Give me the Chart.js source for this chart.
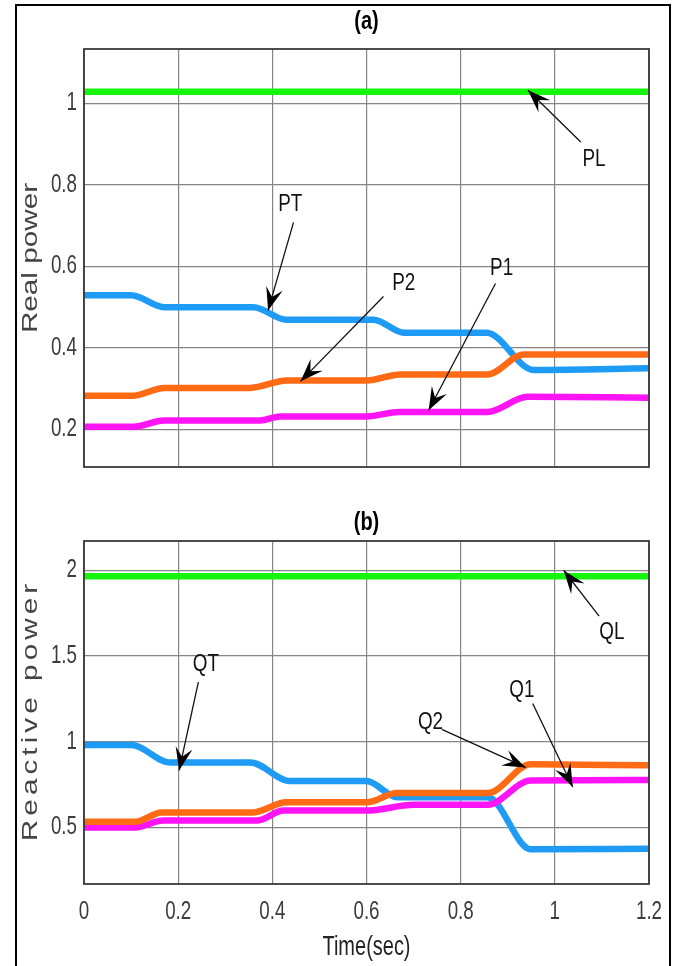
<!DOCTYPE html>
<html>
<head>
<meta charset="utf-8">
<script src="https://cdn.jsdelivr.net/npm/chart.js@4.4.0/dist/chart.umd.min.js"></script>
<style>
  html, body { margin: 0; padding: 0; background: #fff; }
  #wrap { position: relative; width: 678px; height: 966px; overflow: hidden; background: #fff; }
  .panel { position: absolute; left: 0; width: 678px; height: 483px; }
  #frame { position: absolute; left: 15px; top: 4px; width: 656px; height: 990px;
           border: 2px solid #000; box-sizing: border-box; pointer-events: none; }
</style>
</head>
<body>
<div id="wrap">
  <div class="panel" style="top:0"><canvas id="chartA" width="678" height="483"></canvas></div>
  <div class="panel" style="top:483px"><canvas id="chartB" width="678" height="483"></canvas></div>
  <div id="frame"></div>
</div>
<script>
// ---- shared axis data ----
const timeTicks = [0, 0.2, 0.4, 0.6, 0.8, 1, 1.2];
const realTicks = [0.2, 0.4, 0.6, 0.8, 1];
const reactiveTicks = [0.5, 1, 1.5, 2];

// ---- (a) real power, breakpoints (time, value) ----
const plTime = [0, 1.2];
const plValue = [1.028, 1.028];
const ptTime = [0, 0.10, 0.17, 0.36, 0.43, 0.615, 0.68, 0.855, 0.955, 1.2];
const ptValue = [0.529, 0.529, 0.500, 0.500, 0.469, 0.469, 0.437, 0.437, 0.346, 0.350];
const p2Time = [0, 0.105, 0.17, 0.353, 0.43, 0.60, 0.672, 0.857, 0.934, 1.2];
const p2Value = [0.283, 0.283, 0.302, 0.302, 0.320, 0.320, 0.335, 0.335, 0.384, 0.384];
const p1Time = [0, 0.105, 0.17, 0.374, 0.417, 0.60, 0.67, 0.857, 0.942, 1.2];
const p1Value = [0.207, 0.207, 0.222, 0.222, 0.232, 0.232, 0.243, 0.243, 0.280, 0.278];

// ---- (b) reactive power ----
const qlTime = [0, 1.2];
const qlValue = [1.965, 1.965];
const qtTime = [0, 0.101, 0.183, 0.353, 0.438, 0.60, 0.665, 0.857, 0.949, 1.2];
const qtValue = [0.980, 0.980, 0.878, 0.878, 0.770, 0.770, 0.676, 0.676, 0.372, 0.376];
const q2Time = [0, 0.109, 0.165, 0.357, 0.43, 0.60, 0.665, 0.857, 0.949, 1.2];
const q2Value = [0.533, 0.533, 0.587, 0.587, 0.646, 0.646, 0.700, 0.700, 0.868, 0.862];
const q1Time = [0, 0.109, 0.168, 0.367, 0.424, 0.60, 0.70, 0.857, 0.949, 1.2];
const q1Value = [0.500, 0.500, 0.540, 0.540, 0.598, 0.598, 0.632, 0.632, 0.774, 0.776];

// ---- callout labels: text, label point, arrow tail, arrow tip (data units) ----
const notesA = [
  { text: 'PL', label: [1.083, 0.862], tail: [1.055, 0.905], tip: [0.943, 1.032] },
  { text: 'PT', label: [0.438, 0.752], tail: [0.445, 0.708], tip: [0.391, 0.492] },
  { text: 'P2', label: [0.679, 0.558], tail: [0.636, 0.526], tip: [0.460, 0.318] },
  { text: 'P1', label: [0.887, 0.594], tail: [0.874, 0.558], tip: [0.732, 0.247] }
];
const notesB = [
  { text: 'QL', label: [1.121, 1.636], tail: [1.094, 1.732], tip: [1.019, 1.998] },
  { text: 'QT', label: [0.259, 1.45],  tail: [0.243, 1.348], tip: [0.202, 0.832] },
  { text: 'Q2', label: [0.736, 1.108], tail: [0.760, 1.072], tip: [0.938, 0.850] },
  { text: 'Q1', label: [0.930, 1.30],  tail: [0.953, 1.222], tip: [1.038, 0.736] }
];

const COLORS = { green: '#16f50c', blue: '#1e9bf5', orange: '#ff6a14', magenta: '#ff14f5' };
const SANS = '"Liberation Sans", Arial, sans-serif';

const toXY = (ts, vs) => ts.map((t, i) => ({ x: t, y: vs[i] }));
const series = (label, ts, vs, color) => ({
  label, data: toXY(ts, vs), borderColor: color, backgroundColor: color,
  borderWidth: 6.5, pointRadius: 0, cubicInterpolationMode: 'monotone', fill: false
});

// text squeezed horizontally, giving the tall narrow lettering of the plot labels
function narrowText(ctx, text, x, y, size, opt = {}) {
  ctx.save();
  ctx.translate(x, y);
  ctx.scale(opt.sx || 0.75, 1);
  ctx.font = (opt.bold ? 'bold ' : '') + size + 'px ' + SANS;
  ctx.fillStyle = opt.color || '#333';
  ctx.textAlign = opt.align || 'center';
  ctx.textBaseline = 'middle';
  ctx.fillText(text, 0, 0);
  ctx.restore();
}

function drawArrow(ctx, x0, y0, x1, y1) {
  ctx.beginPath();
  ctx.moveTo(x0, y0);
  ctx.lineTo(x1, y1);
  ctx.lineWidth = 1.3;
  ctx.strokeStyle = '#111';
  ctx.stroke();
  const ang = Math.atan2(y1 - y0, x1 - x0);
  const len = 23, half = 8.5, notch = 14;
  ctx.save();
  ctx.translate(x1, y1);
  ctx.rotate(ang);
  ctx.beginPath();
  ctx.moveTo(0, 0);
  ctx.lineTo(-len, -half);
  ctx.lineTo(-notch, 0);
  ctx.lineTo(-len, half);
  ctx.closePath();
  ctx.fillStyle = '#000';
  ctx.fill();
  ctx.restore();
}

const panelDecor = {
  id: 'panelDecor',
  afterDraw(chart, args, opts) {
    const { ctx, chartArea: a, scales: { x, y } } = chart;
    ctx.save();
    // plot frame
    ctx.strokeStyle = '#3a3a3a';
    ctx.lineWidth = 1.8;
    ctx.strokeRect(a.left, a.top, a.right - a.left, a.bottom - a.top);
    // tick labels
    opts.yTicks.forEach(v => narrowText(ctx, String(v), a.left - 7, y.getPixelForValue(v), 25, { align: 'right', color: '#3c3c3c' }));
    if (opts.timeLabels) {
      timeTicks.forEach(v => narrowText(ctx, String(v), x.getPixelForValue(v), a.bottom + 28, 25, { color: '#3c3c3c' }));
      narrowText(ctx, opts.xTitle, (a.left + a.right) / 2, a.bottom + 64, 27, { sx: 0.74, color: '#222' });
    }
    // panel title
    narrowText(ctx, opts.title, (a.left + a.right) / 2, opts.titleY, 25, { bold: true, sx: 0.8, color: '#000' });
    // vertical axis title
    ctx.save();
    ctx.translate(opts.yTitleX, (a.top + a.bottom) / 2);
    ctx.rotate(-Math.PI / 2);
    ctx.scale(1.35, 1);
    ctx.font = '22px ' + SANS;
    ctx.letterSpacing = opts.yTitleSpacing + 'px';
    ctx.fillStyle = '#444';
    ctx.textAlign = 'center';
    ctx.textBaseline = 'middle';
    ctx.fillText(opts.yTitle, opts.yTitleSpacing / 2, 0);
    ctx.restore();
    // callouts
    opts.notes.forEach(n => {
      narrowText(ctx, n.text, x.getPixelForValue(n.label[0]), y.getPixelForValue(n.label[1]), 23, { sx: 0.82, color: '#111' });
      drawArrow(ctx,
        x.getPixelForValue(n.tail[0]), y.getPixelForValue(n.tail[1]),
        x.getPixelForValue(n.tip[0]), y.getPixelForValue(n.tip[1]));
    });
    ctx.restore();
  }
};

function makePanel(id, datasets, yMin, yMax, yTicks, padTop, xHeight, decor) {
  decor.yTicks = yTicks;
  return new Chart(document.getElementById(id), {
    type: 'line',
    data: { datasets },
    options: {
      responsive: false,
      animation: false,
      layout: { padding: { top: padTop, right: 29, left: 0, bottom: 0 } },
      plugins: { legend: { display: false }, tooltip: { enabled: false }, panelDecor: decor },
      scales: {
        x: {
          type: 'linear', min: 0, max: 1.2,
          afterBuildTicks: s => { s.ticks = timeTicks.map(v => ({ value: v })); },
          afterFit: s => { s.height = xHeight; },
          grid: { color: '#858585', lineWidth: 1.2, drawTicks: false },
          border: { display: false },
          ticks: { display: false }
        },
        y: {
          type: 'linear', min: yMin, max: yMax,
          afterBuildTicks: s => { s.ticks = yTicks.map(v => ({ value: v })); },
          afterFit: s => { s.width = 84; },
          grid: { color: '#858585', lineWidth: 1.2, drawTicks: false },
          border: { display: false },
          ticks: { display: false }
        }
      }
    },
    plugins: [panelDecor]
  });
}

// dataset order: earlier entries are painted on top
makePanel('chartA', [
  series('PL', plTime, plValue, COLORS.green),
  series('P2', p2Time, p2Value, COLORS.orange),
  series('P1', p1Time, p1Value, COLORS.magenta),
  series('PT', ptTime, ptValue, COLORS.blue)
], 0.108, 1.133, realTicks, 49, 16, {
  title: '(a)', titleY: 22, yTitle: 'Real power', yTitleX: 31, yTitleSpacing: 0, notes: notesA
});

makePanel('chartB', [
  series('QL', qlTime, qlValue, COLORS.green),
  series('Q2', q2Time, q2Value, COLORS.orange),
  series('Q1', q1Time, q1Value, COLORS.magenta),
  series('QT', qtTime, qtValue, COLORS.blue)
], 0.17, 2.17, reactiveTicks, 58, 82, {
  title: '(b)', titleY: 40, yTitle: 'Reactive power', yTitleX: 31, yTitleSpacing: 3,
  timeLabels: true, xTitle: 'Time(sec)', notes: notesB
});
</script>
</body>
</html>
